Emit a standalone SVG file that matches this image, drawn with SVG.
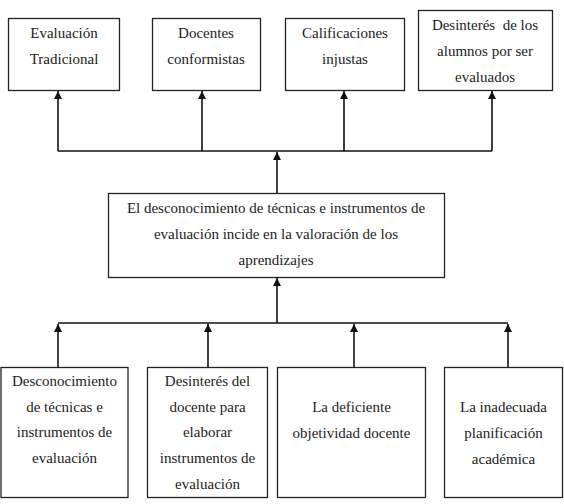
<svg xmlns="http://www.w3.org/2000/svg" width="564" height="504" viewBox="0 0 564 504">
<style>
.box{fill:#fff;stroke:#222;stroke-width:1.3}
.t{font-family:"Liberation Serif","DejaVu Serif",serif;font-size:15px;fill:#222;text-anchor:middle}
.c{fill:none;stroke:#111;stroke-width:1.6}
</style>
<defs>
<marker id="ah" markerUnits="userSpaceOnUse" markerWidth="9" markerHeight="9" refX="8" refY="4" orient="auto">
<path d="M0,0 L8,4 L0,8 z" fill="#111"/>
</marker>
</defs>
<rect width="564" height="504" fill="#fff"/>
<g id="connectors">
<path class="c" d="M58 151 H492"/>
<path class="c" d="M58 151 V91" marker-end="url(#ah)"/>
<path class="c" d="M202 151 V91" marker-end="url(#ah)"/>
<path class="c" d="M344 151 V91" marker-end="url(#ah)"/>
<path class="c" d="M492 151 V91" marker-end="url(#ah)"/>
<path class="c" d="M277 193 V152" marker-end="url(#ah)"/>
<path class="c" d="M58 323 H508"/>
<path class="c" d="M277 323 V278" marker-end="url(#ah)"/>
<path class="c" d="M58 367 V324" marker-end="url(#ah)"/>
<path class="c" d="M208 367 V324" marker-end="url(#ah)"/>
<path class="c" d="M354 367 V324" marker-end="url(#ah)"/>
<path class="c" d="M508 367 V324" marker-end="url(#ah)"/>
</g>
<g id="n1"><rect class="box" x="8.5" y="18.5" width="111" height="72"/>
<text class="t" x="64" y="38">Evaluación</text><text class="t" x="64" y="64">Tradicional</text></g>
<g id="n2"><rect class="box" x="152.5" y="18.5" width="108" height="72"/>
<text class="t" x="206" y="38">Docentes</text><text class="t" x="206" y="64">conformistas</text></g>
<g id="n3"><rect class="box" x="285.5" y="18.5" width="119" height="72"/>
<text class="t" x="345" y="38">Calificaciones</text><text class="t" x="345" y="64">injustas</text></g>
<g id="n4"><rect class="box" x="418.5" y="10.5" width="134" height="80"/>
<text class="t" x="485" y="30" xml:space="preserve">Desinterés  de los</text><text class="t" x="485" y="56">alumnos por ser</text><text class="t" x="485" y="82">evaluados</text></g>
<g id="center"><rect class="box" x="108.5" y="193.5" width="336" height="84"/>
<text class="t" x="276" y="213">El desconocimiento de técnicas e instrumentos de</text>
<text class="t" x="276" y="239">evaluación incide en la valoración de los</text>
<text class="t" x="276" y="265">aprendizajes</text></g>
<g id="b1"><rect class="box" x="1" y="367.5" width="127" height="130"/>
<text class="t" x="64.5" y="386">Desconocimiento</text><text class="t" x="64.5" y="412">de técnicas e</text><text class="t" x="64.5" y="437">instrumentos de</text><text class="t" x="64.5" y="463">evaluación</text></g>
<g id="b2"><rect class="box" x="147.5" y="367.5" width="120" height="130"/>
<text class="t" x="207.5" y="386">Desinterés del</text><text class="t" x="207.5" y="412">docente para</text><text class="t" x="207.5" y="437">elaborar</text><text class="t" x="207.5" y="463">instrumentos de</text><text class="t" x="207.5" y="489">evaluación</text></g>
<g id="b3"><rect class="box" x="277.5" y="367.5" width="148" height="130"/>
<text class="t" x="351.5" y="412">La deficiente</text><text class="t" x="351.5" y="438">objetividad docente</text></g>
<g id="b4"><rect class="box" x="444.5" y="367.5" width="118" height="130"/>
<text class="t" x="503.5" y="412">La inadecuada</text><text class="t" x="503.5" y="438">planificación</text><text class="t" x="503.5" y="464">académica</text></g>
</svg>
